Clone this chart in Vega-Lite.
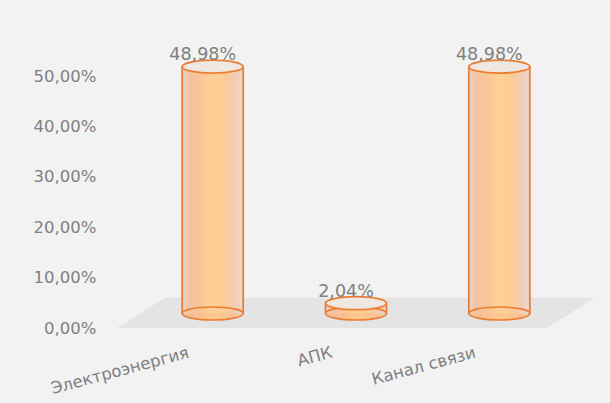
{
  "$schema": "https://vega.github.io/schema/vega-lite/v6.json",
  "autosize": "none",
  "width": 430,
  "height": 252,
  "padding": {"left": 141, "top": 76, "right": 39, "bottom": 75},
  "background": "#f2f2f2",
  "config": {
    "locale": {"number": {"decimal": ",", "thousands": " ", "grouping": [3], "currency": ["", ""]}},
    "view": {"stroke": null},
    "font": "DejaVu Sans"
  },
  "datasets": {
    "main": [
      {"cat": "Электроэнергия", "v": 0.4898},
      {"cat": "АПК", "v": 0.0204},
      {"cat": "Канал связи", "v": 0.4898}
    ],
    "floor": [{"cat": "АПК", "v": 0}]
  },
  "encoding": {
    "x": {
      "field": "cat", "type": "nominal", "sort": ["Электроэнергия", "АПК", "Канал связи"],
      "scale": {"paddingInner": 0, "paddingOuter": 0},
      "axis": {"title": null, "domain": false, "ticks": false, "labelAngle": -15, "labelAlign": "right", "labelBaseline": "middle", "labelOffset": -24, "labelPadding": 24, "labelFontSize": 16.5, "labelColor": "#808080", "labelFont": "DejaVu Sans"}
    },
    "y": {
      "field": "v", "type": "quantitative",
      "scale": {"domain": [0, 0.5], "nice": false, "zero": true},
      "axis": {"title": null, "domain": false, "ticks": false, "grid": false, "values": [0, 0.1, 0.2, 0.3, 0.4, 0.5], "format": ".2%", "labelPadding": 45, "labelFontSize": 16.5, "labelColor": "#808080", "labelFont": "DejaVu Sans"}
    }
  },
  "layer": [
    {
      "data": {"name": "floor"},
      "mark": {"type": "point", "shape": "M-1.112,0L-0.888,-0.141L1.112,-0.141L0.888,0Z", "size": 184900, "filled": true, "fill": "#e4e4e4", "opacity": 1, "strokeWidth": 0}
    },
    {
      "data": {"name": "main"},
      "mark": {"type": "point", "shape": "M-1,0C-1,-0.1177,-0.5523,-0.213,0,-0.213C0.5523,-0.213,1,-0.1177,1,0C1,0.1177,0.5523,0.213,0,0.213C-0.5523,0.213,-1,0.1177,-1,0Z", "size": 3721, "filled": true, "opacity": 1, "strokeWidth": 0, "yOffset": -14.5,
        "fill": {"gradient": "linear", "x1": 0, "x2": 1, "y1": 0, "y2": 0, "stops": [
          {"offset": 0, "color": "#ecc6ad"}, {"offset": 0.15, "color": "#f5bd92"}, {"offset": 0.5, "color": "#fcc98a"}, {"offset": 0.85, "color": "#f8c294"}, {"offset": 1, "color": "#ecd0bf"}]}},
      "encoding": {"y": {"datum": 0}}
    },
    {
      "data": {"name": "main"},
      "mark": {"type": "bar", "width": 61, "yOffset": -14.5, "y2Offset": -14.5, "strokeWidth": 0,
        "fill": {"gradient": "linear", "x1": 0, "x2": 1, "y1": 0, "y2": 0, "stops": [
          {"offset": 0, "color": "#e6d6cf"}, {"offset": 0.12, "color": "#f3c3a3"}, {"offset": 0.3, "color": "#f9c597"}, {"offset": 0.5, "color": "#fdd193"}, {"offset": 0.7, "color": "#fbcb97"}, {"offset": 0.88, "color": "#f1cdb6"}, {"offset": 1, "color": "#e6dcd8"}]}},
      "encoding": {"y2": {"datum": 0}}
    },
    {
      "data": {"name": "main"},
      "mark": {"type": "point", "shape": "M-1,0C-1,-0.1177,-0.5523,-0.213,0,-0.213C0.5523,-0.213,1,-0.1177,1,0C1,0.1177,0.5523,0.213,0,0.213C-0.5523,0.213,-1,0.1177,-1,0Z", "size": 3721, "filled": false, "opacity": 1, "stroke": "#ed7d31", "strokeWidth": 1.6, "yOffset": -14.5},
      "encoding": {"y": {"datum": 0}}
    },
    {
      "data": {"name": "main"},
      "mark": {"type": "rule", "xOffset": -30.5, "x2Offset": -30.5, "yOffset": -14.5, "y2Offset": -14.5, "stroke": "#ed7d31", "strokeWidth": 1.8},
      "encoding": {"y2": {"datum": 0}}
    },
    {
      "data": {"name": "main"},
      "mark": {"type": "rule", "xOffset": 30.5, "x2Offset": 30.5, "yOffset": -14.5, "y2Offset": -14.5, "stroke": "#ed7d31", "strokeWidth": 1.8},
      "encoding": {"y2": {"datum": 0}}
    },
    {
      "data": {"name": "main"},
      "mark": {"type": "point", "shape": "M-1,0C-1,-0.1177,-0.5523,-0.213,0,-0.213C0.5523,-0.213,1,-0.1177,1,0C1,0.1177,0.5523,0.213,0,0.213C-0.5523,0.213,-1,0.1177,-1,0Z", "size": 3721, "filled": true, "fill": "#efe8e2", "opacity": 1, "stroke": "#ed7d31", "strokeWidth": 1.8, "yOffset": -14.5}
    },
    {
      "data": {"name": "main"},
      "mark": {"type": "text", "baseline": "alphabetic", "align": "center", "xOffset": -10, "yOffset": -21, "fontSize": 17.5, "font": "DejaVu Sans", "color": "#808080"},
      "encoding": {"text": {"field": "v", "type": "quantitative", "format": ".2%"}}
    }
  ]
}
